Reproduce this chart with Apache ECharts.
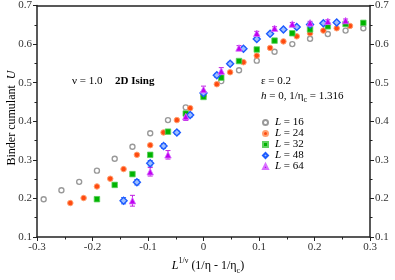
<!DOCTYPE html>
<html><head><meta charset="utf-8">
<script src="https://cdn.jsdelivr.net/npm/echarts@6/dist/echarts.min.js"></script>
<style>html,body{margin:0;padding:0;background:#fff}#c{width:395px;height:280px}</style>
</head><body><div id="c"></div>
<script>
// ---- data ----
const xs16 = [-0.288,-0.256,-0.224,-0.192,-0.160,-0.128,-0.096,-0.064,-0.032,0,0.032,0.064,0.096,0.128,0.160,0.192,0.224,0.256,0.288];
const u16  = [0.198,0.221,0.243,0.272,0.303,0.334,0.369,0.403,0.436,0.468,0.504,0.532,0.557,0.580,0.600,0.614,0.626,0.635,0.641];

const xs24 = [-0.240,-0.216,-0.192,-0.168,-0.144,-0.120,-0.096,-0.072,-0.048,-0.024,0,0.024,0.048,0.072,0.096,0.120,0.144,0.168,0.192,0.216,0.240,0.264];
const u24  = [0.188,0.201,0.231,0.251,0.276,0.313,0.338,0.371,0.403,0.434,0.466,0.496,0.527,0.553,0.570,0.590,0.607,0.620,0.628,0.635,0.641,0.647];

const xs32 = [-0.192,-0.160,-0.128,-0.096,-0.064,-0.032,0,0.032,0.064,0.096,0.128,0.160,0.192,0.224,0.256,0.288];
const u32  = [0.198,0.235,0.263,0.313,0.373,0.420,0.463,0.513,0.556,0.586,0.609,0.628,0.638,0.646,0.652,0.655];
const e32  = [0.005,0.005,0.005,0.005,0.004,0.004,0.004,0.004,0.003,0.003,0.003,0.003,0.003,0.003,0.003,0.003];

const xs48 = [-0.144,-0.120,-0.096,-0.072,-0.048,-0.024,0,0.024,0.048,0.072,0.096,0.120,0.144,0.168,0.192,0.216,0.240];
const u48  = [0.194,0.242,0.291,0.336,0.371,0.416,0.473,0.519,0.549,0.588,0.613,0.627,0.638,0.644,0.651,0.654,0.656];
const e48  = [0.008,0.007,0.007,0.006,0.005,0.005,0.005,0.005,0.004,0.004,0.004,0.003,0.003,0.003,0.003,0.003,0.003];

const xs64 = [-0.128,-0.096,-0.064,-0.032,0,0.032,0.064,0.096,0.128,0.160,0.192,0.224,0.256];
const u64  = [0.194,0.269,0.313,0.412,0.482,0.530,0.590,0.628,0.641,0.652,0.655,0.659,0.661];
const e64  = [0.014,0.011,0.011,0.010,0.009,0.009,0.006,0.005,0.004,0.004,0.004,0.004,0.004];

const seriesNames = ['L = 16','L = 24','L = 32','L = 48','L = 64'];
const xRange = [-0.3, 0.3];
const yRange = [0.1, 0.7];

// ---- chart ----
const FONT = 'Liberation Serif';
const pts = (xs, ys) => xs.map((x, i) => [x, ys[i]]);
function errSeries(xs, ys, es, color) {
  return {
    type: 'custom', silent: true, z: 1,
    data: xs.map((x, i) => [x, ys[i] - es[i], ys[i] + es[i]]),
    encode: { x: 0, y: [1, 2] },
    renderItem: function (params, api) {
      const x = api.value(0), lo = api.value(1), hi = api.value(2);
      const p1 = api.coord([x, lo]), p2 = api.coord([x, hi]);
      const w = 2.5;
      const st = { stroke: color, lineWidth: 1 };
      return { type: 'group', children: [
        { type: 'line', shape: { x1: p1[0], y1: p1[1], x2: p2[0], y2: p2[1] }, style: st },
        { type: 'line', shape: { x1: p1[0] - w, y1: p1[1], x2: p1[0] + w, y2: p1[1] }, style: st },
        { type: 'line', shape: { x1: p2[0] - w, y1: p2[1], x2: p2[0] + w, y2: p2[1] }, style: st }
      ]};
    }
  };
}

function axisCommon() {
  return {
    axisLine: { onZero: false, lineStyle: { color: '#222', width: 1.5 } },
    axisTick: { inside: false, length: 4, lineStyle: { color: '#222' } },
    minorTick: { show: true, splitNumber: 2, length: 2.5, lineStyle: { color: '#222' } },
    splitLine: { show: false },
    axisLabel: { fontFamily: FONT, fontSize: 11, color: '#333', margin: 5 }
  };
}

const chart = echarts.init(document.getElementById('c'), null, { renderer: 'canvas' });
chart.setOption({
  animation: false,
  backgroundColor: '#fff',
  grid: { left: 37, right: 25, top: 4, bottom: 43 },
  xAxis: [
    Object.assign({ type: 'value', position: 'bottom', min: xRange[0], max: xRange[1], interval: 0.1 }, axisCommon()),
    { type: 'value', position: 'top', min: xRange[0], max: xRange[1], axisLine: { onZero: false, lineStyle: { color: '#222', width: 1.5 } }, axisTick: { show: false }, axisLabel: { show: false }, splitLine: { show: false } }
  ],
  yAxis: [
    Object.assign({ type: 'value', position: 'left', min: yRange[0], max: yRange[1], interval: 0.1 }, axisCommon()),
    Object.assign({ type: 'value', position: 'right', min: yRange[0], max: yRange[1], interval: 0.1 }, axisCommon())
  ],
  legend: {
    orient: 'vertical', left: 257, top: 112,
    itemWidth: 5, itemHeight: 5, itemGap: 0,
    data: [
      { name: seriesNames[0], icon: 'circle' },
      { name: seriesNames[1], icon: 'circle' },
      { name: seriesNames[2], icon: 'rect' },
      { name: seriesNames[3], icon: 'diamond' },
      { name: seriesNames[4], icon: 'triangle' }
    ],
    formatter: n => '{i|L}' + n.slice(1),
    textStyle: { fontFamily: FONT, fontSize: 11, color: '#000', lineHeight: 11, padding: [0, 0, 0, 2],
      rich: { i: { fontStyle: 'italic', fontFamily: FONT, fontSize: 11, lineHeight: 11 } } }
  },
  series: [
    { name: seriesNames[0], type: 'scatter', symbol: 'circle', symbolSize: 5, z: 2,
      itemStyle: { color: '#fff', borderColor: '#999', borderWidth: 1.4, opacity: 1 }, data: pts(xs16, u16) },
    { name: seriesNames[1], type: 'scatter', symbol: 'circle', symbolSize: 5.5, z: 3,
      itemStyle: { color: '#ff4a10', borderColor: '#ffa070', borderWidth: 1, opacity: 1 }, data: pts(xs24, u24) },
    errSeries(xs32, u32, e32, '#00b000'),
    { name: seriesNames[2], type: 'scatter', symbol: 'rect', symbolSize: 5.5, z: 4,
      itemStyle: { color: '#00b400', borderColor: '#60d060', borderWidth: 0.8, opacity: 1 }, data: pts(xs32, u32) },
    errSeries(xs48, u48, e48, '#2060ff'),
    { name: seriesNames[3], type: 'scatter', symbol: 'diamond', symbolSize: 7, z: 5,
      itemStyle: { color: '#9ec0ff', borderColor: '#1e5cff', borderWidth: 1.4, opacity: 1 }, data: pts(xs48, u48) },
    errSeries(xs64, u64, e64, '#c020e0'),
    { name: seriesNames[4], type: 'scatter', symbol: 'triangle', symbolSize: 6.5, z: 6,
      itemStyle: { color: '#c000f0', borderColor: '#d870ff', borderWidth: 0.8, opacity: 1 }, data: pts(xs64, u64) }
  ],
  graphic: [
    { type: 'text', left: 72, top: 76, style: { text: 'ν = 1.0', fontFamily: FONT, fontSize: 11, fill: '#000' } },
    { type: 'text', left: 115, top: 76, style: { text: '2D Ising', fontFamily: FONT, fontSize: 11, fontWeight: 'bold', fill: '#000' } },
    { type: 'text', left: 261, top: 76, style: { text: 'ε = 0.2', fontFamily: FONT, fontSize: 11, fill: '#000' } },
    { type: 'text', left: 261, top: 88, style: {
        text: '{i|h} = 0, 1/η{s|c} = 1.316', fontFamily: FONT, fontSize: 11, fill: '#000', lineHeight: 16,
        rich: { i: { fontStyle: 'italic', fontFamily: FONT, fontSize: 11, lineHeight: 16 },
                s: { fontFamily: FONT, fontSize: 8, verticalAlign: 'bottom', lineHeight: 16 } } } },
    { type: 'text', x: 12, y: 118, rotation: Math.PI / 2, style: {
        text: 'Binder cumulant  {i|U}', fontFamily: FONT, fontSize: 12, fill: '#000', align: 'center', verticalAlign: 'middle',
        rich: { i: { fontStyle: 'italic', fontFamily: FONT, fontSize: 12 } } } },
    { type: 'text', x: 208, y: 266, style: {
        text: '{i|L}{p|1/ν} (1/η - 1/η{s|c})', fontFamily: FONT, fontSize: 12, fill: '#000', align: 'center', verticalAlign: 'middle', lineHeight: 18,
        rich: { i: { fontStyle: 'italic', fontFamily: FONT, fontSize: 12, lineHeight: 18 },
                p: { fontFamily: FONT, fontSize: 8, verticalAlign: 'top', lineHeight: 18 },
                s: { fontFamily: FONT, fontSize: 8, verticalAlign: 'bottom', lineHeight: 18 } } } }
  ]
});
</script></body></html>
